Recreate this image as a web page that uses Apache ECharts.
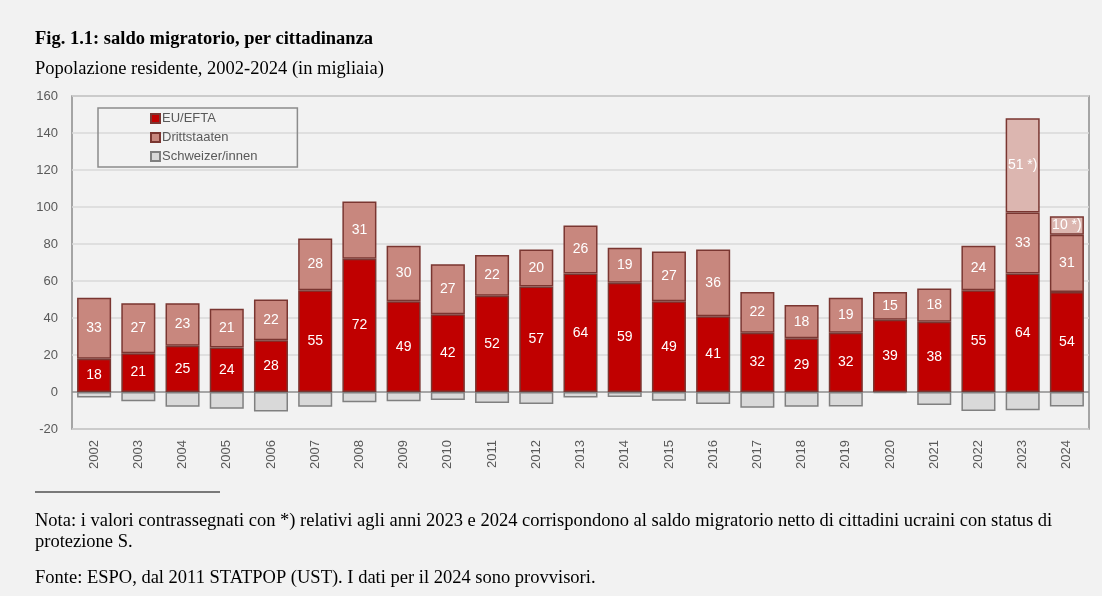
<!DOCTYPE html>
<html>
<head>
<meta charset="utf-8">
<script src="https://cdn.jsdelivr.net/npm/echarts@6/dist/echarts.min.js"></script>
<style>
    html, body { margin: 0; padding: 0; background: #f2f2f2; }
    #chart { width: 1102px; height: 596px; }
</style>
</head>
<body>
<div id="chart"></div>
<script>
// 年份
const years = ['2002', '2003', '2004', '2005', '2006', '2007', '2008', '2009', '2010', '2011', '2012',
    '2013', '2014', '2015', '2016', '2017', '2018', '2019', '2020', '2021', '2022', '2023', '2024'];

// 各国籍的净迁移 (千人)
const euEfta = [18, 21, 25, 24, 28, 55, 72, 49, 42, 52, 57, 64, 59, 49, 41, 32, 29, 32, 39, 38, 55, 64, 54];
const drittstaaten = [33, 27, 23, 21, 22, 28, 31, 30, 27, 22, 20, 26, 19, 27, 36, 22, 18, 19, 15, 18, 24, 33, 31];
// 乌克兰 S 身份 (只有 2023, 2024)
const ukraineS = [null, null, null, null, null, null, null, null, null, null, null,
    null, null, null, null, null, null, null, null, null, null, 51, 10];
const schweizer = [-3, -5, -8, -9, -10.5, -8, -5.6, -5, -4.3, -6, -6.5,
    -3, -2.7, -4.7, -6.5, -8.5, -8, -7.8, -0.5, -7, -10.3, -9.8, -7.8];

// y轴刻度
const yMin = -20, yMax = 160, yStep = 20;

const sans = '"Liberation Sans", Arial, sans-serif';
const serif = '"Liberation Serif", "Times New Roman", serif';
const darkBorder = '#7a3631';

// 0 线颜色更深
let splitColors = [];
for (let v = yMin; v <= yMax; v += yStep) {
    splitColors.push(v === 0 ? '#8c8c8c' : '#d9d9d9');
}

function segLabel (fmt) {
    return {
        show: true,
        position: 'inside',
        color: '#ffffff',
        fontFamily: sans,
        fontSize: 14,
        formatter: fmt
    };
}

const chart = echarts.init(document.getElementById('chart'));

chart.setOption({
    backgroundColor: '#f2f2f2',
    animation: false,
    grid: {
        left: 72, right: 13, top: 96, bottom: 167,
        show: true,
        borderColor: '#8c8c8c',
        borderWidth: 1.5,
        backgroundColor: 'transparent'
    },
    legend: {
        data: ['EU/EFTA', 'Drittstaaten', 'Schweizer/innen'],
        orient: 'vertical',
        left: 98,
        top: 108,
        itemWidth: 9,
        itemHeight: 9,
        itemGap: 6,
        padding: [4, 40, 4, 52],
        borderColor: '#8c8c8c',
        borderWidth: 1.5,
        icon: 'rect',
        textStyle: { fontFamily: sans, fontSize: 13, color: '#595959', padding: [0, 0, 0, -3] }
    },
    xAxis: {
        type: 'category',
        data: years,
        axisLine: { show: false, onZero: false },
        axisTick: { show: false },
        axisLabel: {
            rotate: 90,
            margin: 11,
            fontFamily: sans,
            fontSize: 13,
            color: '#595959'
        }
    },
    yAxis: {
        type: 'value',
        min: yMin,
        max: yMax,
        interval: yStep,
        axisLine: { show: false },
        axisTick: { show: false },
        axisLabel: { fontFamily: sans, fontSize: 13, color: '#595959', margin: 14 },
        splitLine: { lineStyle: { color: splitColors, width: 1.5 } }
    },
    series: [
        {
            name: 'EU/EFTA',
            type: 'bar',
            stack: 'total',
            barWidth: '77%',
            data: euEfta,
            itemStyle: { color: '#c00000', borderColor: darkBorder, borderWidth: 1.5 },
            label: segLabel('{c}')
        },
        {
            name: 'Drittstaaten',
            type: 'bar',
            stack: 'total',
            data: drittstaaten,
            itemStyle: { color: '#c8877e', borderColor: darkBorder, borderWidth: 1.5 },
            label: segLabel('{c}')
        },
        {
            name: 'Ukraine S',
            type: 'bar',
            stack: 'total',
            data: ukraineS,
            itemStyle: { color: '#dcb6b0', borderColor: darkBorder, borderWidth: 1.5 },
            label: segLabel('{c} *)')
        },
        {
            name: 'Schweizer/innen',
            type: 'bar',
            stack: 'total',
            data: schweizer,
            itemStyle: { color: '#d9d9d9', borderColor: '#808080', borderWidth: 1.5 }
        }
    ],
    graphic: [
        {
            type: 'text', left: 35, top: 30,
            style: { text: 'Fig. 1.1: saldo migratorio, per cittadinanza', font: 'bold 18.5px ' + serif, fill: '#000' }
        },
        {
            type: 'text', left: 35, top: 60,
            style: { text: 'Popolazione residente, 2002-2024 (in migliaia)', font: '18.5px ' + serif, fill: '#000' }
        },
        {
            type: 'line',
            shape: { x1: 35, y1: 492, x2: 220, y2: 492 },
            style: { stroke: '#000', lineWidth: 1 }
        },
        {
            type: 'text', left: 35, top: 512,
            style: {
                text: 'Nota: i valori contrassegnati con *) relativi agli anni 2023 e 2024 corrispondono al saldo migratorio netto di cittadini ucraini con status di',
                font: '18.5px ' + serif, fill: '#000'
            }
        },
        {
            type: 'text', left: 35, top: 533,
            style: { text: 'protezione S.', font: '18.5px ' + serif, fill: '#000' }
        },
        {
            type: 'text', left: 35, top: 569,
            style: { text: 'Fonte: ESPO, dal 2011 STATPOP (UST). I dati per il 2024 sono provvisori.', font: '18.5px ' + serif, fill: '#000' }
        }
    ]
});
</script>
</body>
</html>
